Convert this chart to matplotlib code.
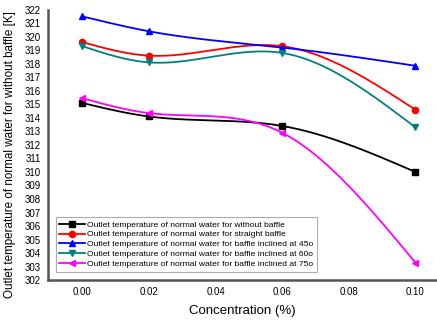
import matplotlib
matplotlib.use("Agg")
import matplotlib.pyplot as plt
import numpy as np

plt.rcParams["font.family"] = ["Liberation Sans", "DejaVu Sans"]

conc = [0.00, 0.02, 0.06, 0.10]
without_baffle = [315.1, 314.1, 313.4, 310.0]
straight_baffle = [319.6, 318.6, 319.3, 314.6]
inclined_45 = [321.5, 320.4, 319.2, 317.85]
inclined_60 = [319.3, 318.1, 318.8, 313.3]
inclined_75 = [315.45, 314.35, 312.9, 303.3]

labels = [
    "Outlet temperature of normal water for without baffle",
    "Outlet temperature of normal water for straight baffle",
    "Outlet temperature of normal water for baffle inclined at 45o",
    "Outlet temperature of normal water for baffle inclined at 60o",
    "Outlet temperature of normal water for baffle inclined at 75o",
]
yticks = list(range(302, 323))
xticks = [0.00, 0.02, 0.04, 0.06, 0.08, 0.10]


def natural_spline(x, y, n=200):
    """Smooth curve through the points (natural cubic spline)."""
    x = np.asarray(x, float)
    y = np.asarray(y, float)
    k = len(x)
    h = np.diff(x)
    A = np.zeros((k, k))
    b = np.zeros(k)
    A[0, 0] = A[-1, -1] = 1
    for i in range(1, k - 1):
        A[i, i - 1] = h[i - 1]
        A[i, i] = 2 * (h[i - 1] + h[i])
        A[i, i + 1] = h[i]
        b[i] = 6 * ((y[i + 1] - y[i]) / h[i] - (y[i] - y[i - 1]) / h[i - 1])
    m = np.linalg.solve(A, b)
    xs = np.linspace(x[0], x[-1], n)
    idx = np.clip(np.searchsorted(x, xs) - 1, 0, k - 2)
    x0, x1 = x[idx], x[idx + 1]
    hh = x1 - x0
    t0, t1 = x1 - xs, xs - x0
    ys = (m[idx] * t0**3 / (6 * hh) + m[idx + 1] * t1**3 / (6 * hh)
          + (y[idx] / hh - m[idx] * hh / 6) * t0
          + (y[idx + 1] / hh - m[idx + 1] * hh / 6) * t1)
    return xs, ys


fig = plt.figure(figsize=(4.37, 3.22), dpi=100)
ax = fig.add_axes([0.11, 0.13, 0.89, 0.84])

series = [
    (without_baffle, "black", "s"),
    (straight_baffle, "red", "o"),
    (inclined_45, "blue", "^"),
    (inclined_60, "#008080", "v"),
    (inclined_75, "#ff00ff", "<"),
]
for (vals, color, marker), label in zip(series, labels):
    xs, ys = natural_spline(conc, vals)
    ax.plot(xs, ys, color=color, lw=1.3)
    ax.plot(conc, vals, ls="none", marker=marker, color=color, ms=4.5)
    ax.plot([], [], color=color, marker=marker, ms=4.5, lw=1.3, label=label)

ax.set_xlim(-0.0103, 0.1065)
ax.set_ylim(302, 322)
ax.set_xticks(xticks)
ax.set_xticklabels([f"{v:.2f}" for v in xticks])
ax.set_yticks(yticks)
ax.tick_params(length=0, labelsize=7, pad=5)
for s in ["top", "right"]:
    ax.spines[s].set_visible(False)
for s in ["left", "bottom"]:
    ax.spines[s].set_color("#555555")
    ax.spines[s].set_linewidth(1.8)

ax.set_xlabel("Concentration (%)", fontsize=9.5, labelpad=6)
ax.set_ylabel("Outlet temperature of normal water for without baffle [K]", fontsize=8.4)
ax.yaxis.set_label_coords(-0.082, 0.465)

leg = ax.legend(loc="lower left", bbox_to_anchor=(0.015, 0.025), fontsize=6.1,
                frameon=True, fancybox=False, handlelength=3, borderpad=0.45,
                labelspacing=0.22, handletextpad=0.3, borderaxespad=0.2)
leg.get_frame().set_edgecolor("#999999")
leg.get_frame().set_linewidth(0.8)

fig.savefig("out.png", dpi=100)
